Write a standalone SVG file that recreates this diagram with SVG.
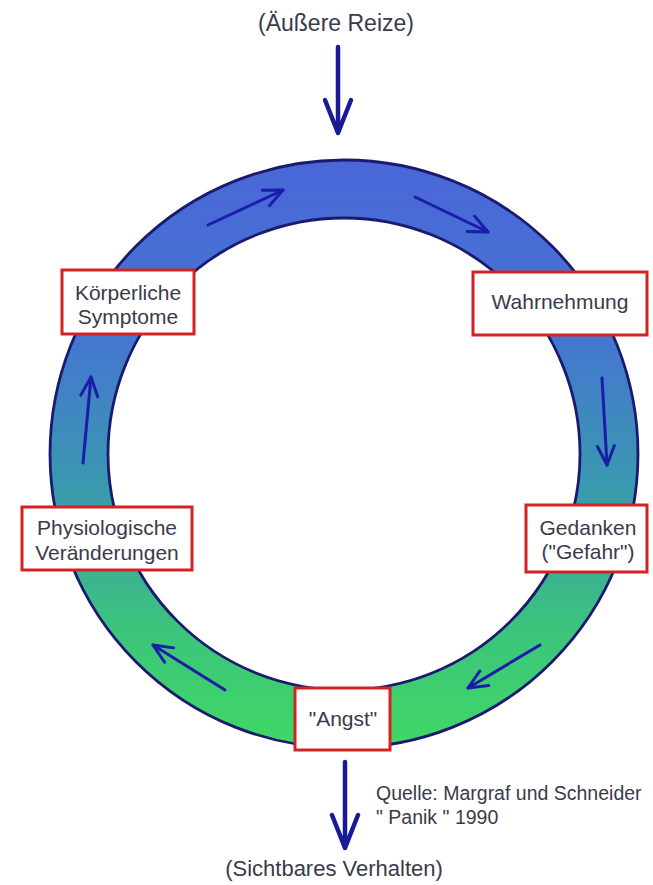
<svg xmlns="http://www.w3.org/2000/svg" width="653" height="885" viewBox="0 0 653 885">
<style>
text{font-family:"Liberation Sans",Arial,sans-serif;fill:#3a3a4a;}
.lbl{font-size:21px;text-anchor:middle;}
.box{fill:#ffffff;stroke:#d42222;stroke-width:3;}
.ra{fill:none;stroke:#1c1caa;stroke-width:3;stroke-linecap:round;}
.big{fill:none;stroke:#1a1a99;stroke-width:4.5;stroke-linecap:round;stroke-linejoin:round;}
</style>
<defs>
<linearGradient id="g" x1="0" y1="160" x2="0" y2="748" gradientUnits="userSpaceOnUse">
<stop offset="0" stop-color="#4a66d8"/>
<stop offset="0.3" stop-color="#4476d0"/>
<stop offset="0.55" stop-color="#3a98b0"/>
<stop offset="0.8" stop-color="#3cc47c"/>
<stop offset="1" stop-color="#40d864"/>
</linearGradient>
<marker id="ah" viewBox="-22 -11 24 22" refX="0" refY="0" markerWidth="24" markerHeight="22" markerUnits="userSpaceOnUse" orient="auto">
<path d="M-19,-8.5 L0,0 L-19,8.5" fill="none" stroke="#1c1caa" stroke-width="3" stroke-linecap="round" stroke-linejoin="round"/>
</marker>
</defs>
<rect width="653" height="885" fill="#ffffff"/>
<g id="ring">
<path d="M50,454 A294,294 0 1,0 638,454 A294,294 0 1,0 50,454 Z M108,454 A236,236 0 1,1 580,454 A236,236 0 1,1 108,454 Z" fill="url(#g)" fill-rule="evenodd" stroke="#1a1a70" stroke-width="2.8"/>
</g>
<g id="connectors">
<path class="big" d="M338,47 L338,133 M325,100 L338,133 L351,100"/>
<path class="big" d="M345,762 L345,848 M332,815 L345,848 L358,815"/>
<line class="ra" x1="208" y1="225" x2="283" y2="190" marker-end="url(#ah)"/>
<line class="ra" x1="415" y1="197" x2="488" y2="232" marker-end="url(#ah)"/>
<line class="ra" x1="602" y1="378" x2="607" y2="465" marker-end="url(#ah)"/>
<line class="ra" x1="83" y1="463" x2="91" y2="377" marker-end="url(#ah)"/>
<line class="ra" x1="225" y1="690" x2="153" y2="645" marker-end="url(#ah)"/>
<line class="ra" x1="540" y1="645" x2="468" y2="688" marker-end="url(#ah)"/>
</g>
<g id="aeussere-reize"><text x="336" y="31" style="font-size:23px" text-anchor="middle">(Äußere Reize)</text></g>
<g id="koerperliche-symptome">
<rect class="box" x="62" y="270" width="132" height="64"/>
<text class="lbl" x="128" y="300">Körperliche</text>
<text class="lbl" x="128" y="324">Symptome</text>
</g>
<g id="wahrnehmung">
<rect class="box" x="473" y="272" width="174" height="63"/>
<text class="lbl" x="560" y="309">Wahrnehmung</text>
</g>
<g id="physiologische-veraenderungen">
<rect class="box" x="22" y="507" width="170" height="63"/>
<text class="lbl" x="107" y="535">Physiologische</text>
<text class="lbl" x="107" y="560">Veränderungen</text>
</g>
<g id="gedanken">
<rect class="box" x="526" y="505" width="121" height="67"/>
<text class="lbl" x="588" y="535">Gedanken</text>
<text class="lbl" x="588" y="559">("Gefahr")</text>
</g>
<g id="angst">
<rect class="box" x="295" y="688" width="95" height="62"/>
<text class="lbl" x="343" y="726">"Angst"</text>
</g>
<g id="quelle">
<text x="376" y="800" style="font-size:19.5px">Quelle: Margraf und Schneider</text>
<text x="376" y="824" style="font-size:19.5px">" Panik " 1990</text>
</g>
<g id="sichtbares-verhalten"><text x="334" y="876" style="font-size:22px" text-anchor="middle">(Sichtbares Verhalten)</text></g>
</svg>
